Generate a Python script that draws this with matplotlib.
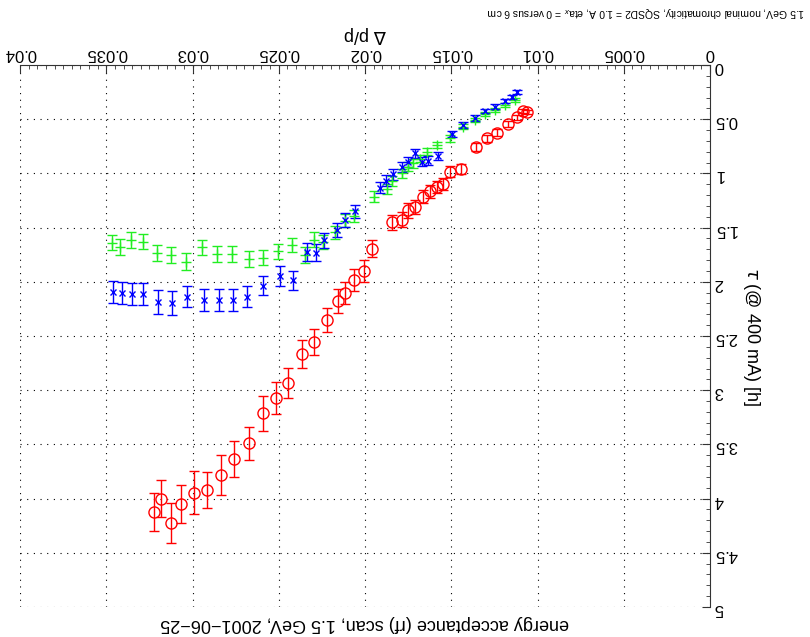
import numpy as np
import matplotlib
matplotlib.use("Agg")
import matplotlib.pyplot as plt

plt.rcParams['font.family'] = ['Liberation Sans', 'DejaVu Sans']

# energy acceptance : Delta p/p et duree de vie (h)
dp_rouge = [0.01063, 0.01082, 0.01121, 0.01173, 0.01237, 0.01291, 0.01358, 0.01446,
            0.01507, 0.01550, 0.01581, 0.01623, 0.01664, 0.01712, 0.01749, 0.01783,
            0.01843, 0.01961, 0.02004, 0.02064, 0.02116, 0.02158, 0.02222, 0.02297,
            0.02365, 0.02445, 0.02516, 0.02593, 0.02674, 0.02757, 0.02837, 0.02914,
            0.02990, 0.03067, 0.03126, 0.03184, 0.03221]
tau_rouge = [0.434, 0.424, 0.482, 0.544, 0.623, 0.678, 0.756, 0.961,
             0.984, 1.095, 1.123, 1.165, 1.215, 1.307, 1.342, 1.427,
             1.451, 1.694, 1.898, 1.983, 2.106, 2.174, 2.352, 2.555,
             2.666, 2.931, 3.069, 3.213, 3.490, 3.633, 3.782, 3.921,
             3.946, 4.050, 4.222, 4.001, 4.126]
err_rouge = [0.02, 0.02, 0.025, 0.03, 0.03, 0.035, 0.04, 0.045,
             0.05, 0.055, 0.055, 0.06, 0.06, 0.065, 0.065, 0.07,
             0.07, 0.08, 0.10, 0.10, 0.10, 0.11, 0.11, 0.12,
             0.13, 0.14, 0.148, 0.163, 0.154, 0.166, 0.185, 0.166,
             0.198, 0.175, 0.185, 0.169, 0.175]

dp_vert = [0.01130, 0.01188, 0.01246, 0.01304, 0.01362, 0.01430, 0.01507, 0.01583,
           0.01642, 0.01681, 0.01720, 0.01749, 0.01786, 0.01843, 0.01872, 0.01946,
           0.02064, 0.02116, 0.02172, 0.02242, 0.02294, 0.02350, 0.02425, 0.02507,
           0.02593, 0.02672, 0.02773, 0.02860, 0.02947, 0.03038, 0.03126, 0.03207,
           0.03289, 0.03358, 0.03420, 0.03468]
tau_vert = [0.323, 0.369, 0.415, 0.449, 0.507, 0.569, 0.676, 0.738,
            0.798, 0.863, 0.907, 0.938, 0.999, 1.070, 1.144, 1.215,
            1.393, 1.439, 1.541, 1.637, 1.610, 1.753, 1.661, 1.720,
            1.778, 1.793, 1.744, 1.746, 1.682, 1.815, 1.753, 1.737,
            1.630, 1.614, 1.676, 1.639]
err_vert = [0.015, 0.018, 0.02, 0.02, 0.022, 0.025, 0.03, 0.03,
            0.035, 0.035, 0.04, 0.04, 0.04, 0.045, 0.045, 0.05,
            0.055, 0.06, 0.06, 0.065, 0.065, 0.07, 0.065, 0.07,
            0.07, 0.075, 0.07, 0.075, 0.07, 0.08, 0.075, 0.075,
            0.07, 0.07, 0.075, 0.07]

dp_bleu = [0.01116, 0.01148, 0.01188, 0.01246, 0.01304, 0.01362, 0.01430, 0.01497,
           0.01575, 0.01635, 0.01671, 0.01710, 0.01749, 0.01787, 0.01838, 0.01878,
           0.01913, 0.02058, 0.02116, 0.02164, 0.02235, 0.02284, 0.02334, 0.02416,
           0.02494, 0.02593, 0.02682, 0.02763, 0.02848, 0.02932, 0.03030, 0.03121,
           0.03202, 0.03285, 0.03349, 0.03410, 0.03459]
tau_bleu = [0.249, 0.295, 0.332, 0.383, 0.424, 0.489, 0.553, 0.636,
            0.839, 0.881, 0.892, 0.816, 0.892, 0.941, 1.010, 1.066,
            1.132, 1.347, 1.430, 1.522, 1.617, 1.730, 1.725, 1.986,
            1.946, 2.036, 2.137, 2.168, 2.168, 2.168, 2.137, 2.198,
            2.184, 2.113, 2.113, 2.101, 2.091]
err_bleu = [0.015, 0.015, 0.018, 0.02, 0.02, 0.025, 0.025, 0.03,
            0.04, 0.04, 0.04, 0.04, 0.045, 0.045, 0.05, 0.05,
            0.05, 0.06, 0.065, 0.065, 0.07, 0.08, 0.08, 0.09,
            0.09, 0.09, 0.1, 0.1, 0.1, 0.1, 0.1, 0.11,
            0.11, 0.1, 0.1, 0.1, 0.1]


def main():
    fig = plt.figure(figsize=(8.1, 6.37), dpi=100)
    ax = fig.add_axes([20/810, 1-607/637, 690/810, 542/637])

    ax.errorbar(dp_vert, tau_vert, yerr=err_vert, fmt="+", color="#22ee22",
                ms=7, mew=1, elinewidth=1, capsize=3.5)
    ax.errorbar(dp_bleu, tau_bleu, yerr=err_bleu, fmt="x", color="#0000ff",
                ms=5, mew=1, elinewidth=1, capsize=3.5)
    ax.errorbar(dp_rouge, tau_rouge, yerr=err_rouge, fmt="o", color="#ff0000",
                mfc="none", ms=8, mew=1, elinewidth=1, capsize=3.5)

    # figure a l'envers : tout est tourne de 180 degres
    ax.set_xlim(0.04, 0)
    ax.set_ylim(5, 0)
    ax.xaxis.tick_top()
    ax.xaxis.set_label_position("top")
    ax.yaxis.tick_right()
    ax.yaxis.set_label_position("right")
    ax.set_xticks(np.arange(0, 0.0401, 0.005))
    ax.set_xticklabels(["0", "0.005", "0.01", "0.015", "0.02", "0.025", "0.03", "0.035", "0.04"])
    ax.set_yticks(np.arange(0, 5.01, 0.5))
    ax.set_yticklabels(["0", "0.5", "1", "1.5", "2", "2.5", "3", "3.5", "4", "4.5", "5"])
    ax.set_xticks(np.arange(0, 0.0401, 0.0005), minor=True)
    ax.set_yticks(np.arange(0, 5.01, 0.1), minor=True)
    ax.tick_params(which="both", direction="in", top=True, bottom=False,
                   left=False, right=True, labelsize=12, labelrotation=180,
                   color="#333333", pad=3)
    ax.tick_params(which="major", length=6)
    ax.tick_params(which="minor", length=3)

    ax.spines["left"].set_visible(False)
    ax.spines["bottom"].set_visible(False)
    ax.spines["top"].set_color("#333333")
    ax.spines["right"].set_color("#333333")
    ax.grid(True, which="major", color="black", linestyle=(0, (1, 5)), linewidth=0.8)
    ax.set_axisbelow(True)

    ax.set_xlabel(r"$\Delta$ p/p", fontsize=13, rotation=180, labelpad=5)
    ax.set_ylabel(r"$\tau$ (@ 400 mA) [h]", fontsize=13, rotation=270, labelpad=3,
                  va="bottom")
    ax.text(0.5, -0.015, "energy acceptance (rf) scan, 1.5 GeV, 2001\u221206\u221225",
            transform=ax.transAxes, rotation=180, ha="center", va="top", fontsize=13)
    fig.text(805/810, 1-5/637, r"1.5 GeV, nominal chromaticity, SQSD2 = 1.0 A, eta$_x$ = 0 versus 6 cm",
             rotation=180, ha="right", va="top", fontsize=7.5)

    fig.savefig("out.png", dpi=100)


if __name__ == "__main__":
    main()
